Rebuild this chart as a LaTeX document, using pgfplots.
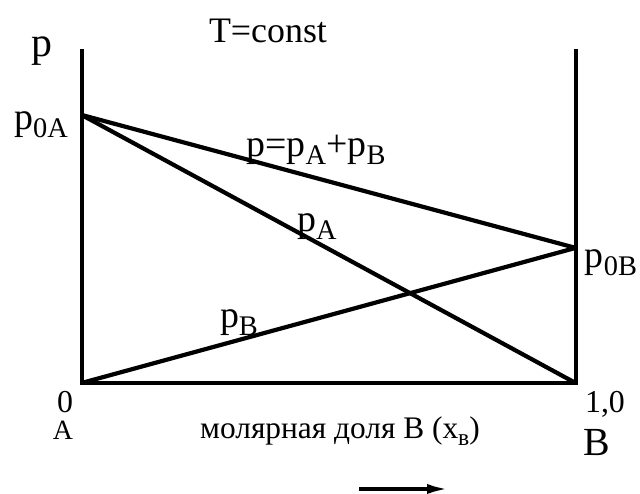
\documentclass[border=0pt]{standalone}
\usepackage{fontspec}
\setmainfont{Liberation Serif}
\usepackage{graphicx}
\usepackage{pgfplots}
\usetikzlibrary{arrows.meta}
\pgfplotsset{compat=1.18}
\newcommand\sub[1]{\raisebox{-0.2em}{\scalebox{0.75}{#1}}}
\newcommand\fs[1]{\fontsize{#1}{#1}\selectfont}
\begin{document}
\begin{tikzpicture}
\begin{axis}[anchor=south west, scale only axis,
  width=494bp, height=334bp, xmin=0, xmax=1, ymin=0, ymax=1.246,
  hide axis, clip=false]
\addplot[black, line width=4.2bp, line join=miter] coordinates {(0,1.246)(0,0)(1,0)(1,1.246)};
\addplot[black, line width=4.2bp] coordinates {(0,1)(1,0.504)};
\addplot[black, line width=4.2bp] coordinates {(0,1)(1,0)};
\addplot[black, line width=4.2bp] coordinates {(0,0)(1,0.504)};
\end{axis}
\begin{scope}[x=1bp,y=1bp,shift={(-81.6bp,-111bp)}]
\node[font=\fs{42}, anchor=base] at (42,437) {p};
\node[font=\fs{36}, anchor=base] at (268,451) {T=const};
\node[font=\fs{38}, anchor=base] at (41,364) {p\sub{0A}};
\node[font=\fs{38}, anchor=base] at (316,337) {p=p\sub{A}+p\sub{B}};
\node[font=\fs{38}, anchor=base] at (317,262) {p\sub{A}};
\node[font=\fs{38}, anchor=base] at (611,226) {p\sub{0B}};
\node[font=\fs{38}, anchor=base] at (239,166) {p\sub{B}};
\node[font=\fs{32}, anchor=base] at (65,81) {0};
\node[font=\fs{32}, anchor=base] at (605,81) {1,0};
\node[font=\fs{28}, anchor=base] at (63,54) {A};
\node[font=\fs{40}, anchor=base] at (597,38) {B};
\node[font=\fs{31.5}, anchor=base] at (340,55) {молярная доля В (x\sub{в})};
\draw[line width=4.2bp, -{Latex[length=24bp,width=10bp]}] (359,5) -- (451,5);
\pgfresetboundingbox
\path (0,0) rectangle (640,494);
\end{scope}
\end{tikzpicture}
\end{document}
